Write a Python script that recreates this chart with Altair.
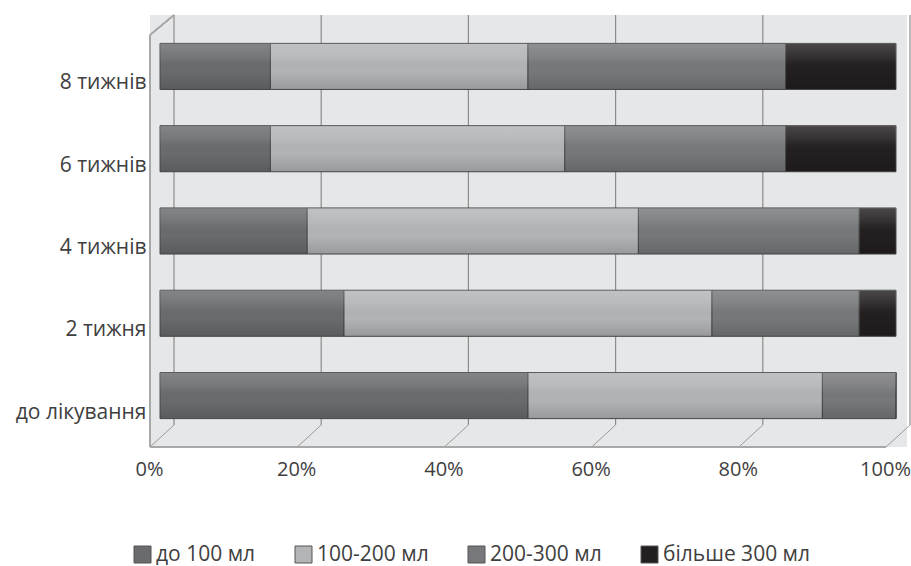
import altair as alt
import pandas as pd

categories = ["8 тижнів", "6 тижнів", "4 тижнів", "2 тижня", "до лікування"]
series = ["до 100 мл", "100-200 мл", "200-300 мл", "більше 300 мл"]
v_lt100 = [15, 15, 20, 25, 50]
v_100_200 = [35, 40, 45, 50, 40]
v_200_300 = [35, 30, 30, 20, 10]
v_gt300 = [15, 15, 5, 5, 0]
colors = ["#6a6b6e", "#b3b4b6", "#77787b", "#231f20"]
tick_values = [0, 20, 40, 60, 80, 100]

rows = []
for ci, c in enumerate(categories):
    for si, (s, vals) in enumerate(zip(series, [v_lt100, v_100_200, v_200_300, v_gt300])):
        rows.append({"cat": c, "series": s, "value": vals[ci], "ord": si})
df = pd.DataFrame(rows)
grid = pd.DataFrame({"v": tick_values})

W, H = 757, 432
K = 7.36
FONT = "Open Sans"
xscale = alt.Scale(domain=[-10 / K, (W - 10) / K], nice=False, zero=False)

x_enc = alt.X("value:Q", stack="zero", scale=xscale,
              axis=alt.Axis(values=tick_values, labelExpr="datum.value + '%'",
                            grid=False, ticks=False, domain=False,
                            labelFont=FONT, labelFontSize=20, labelColor="#404040",
                            labelOffset=-11, labelPadding=12, title=None))
y_enc = alt.Y("cat:N", sort=categories,
              scale=alt.Scale(paddingInner=0.44, paddingOuter=0.345),
              axis=alt.Axis(ticks=False, domain=False, labelFont=FONT, labelFontSize=21,
                            labelColor="#404040", labelPadding=4, labelOffset=17,
                            title=None))

grid_base = alt.Chart(grid)
back_grid = grid_base.mark_rule(color="#8c8c8c", strokeWidth=1.2, xOffset=14).encode(
    x=alt.X("v:Q", scale=xscale), y=alt.value(0), y2=alt.value(H - 22))
floor_diag = grid_base.mark_rule(color="#9a9a9a", strokeWidth=1, xOffset=-10, x2Offset=14).encode(
    x=alt.X("v:Q", scale=xscale), x2="v:Q", y=alt.value(H), y2=alt.value(H - 22))
floor_front = grid_base.mark_rule(color="#a8a8a8", strokeWidth=2, xOffset=-10, x2Offset=-10).encode(
    x=alt.datum(0, scale=xscale), x2=alt.datum(100), y=alt.value(H))
left_front = grid_base.mark_rule(color="#a8a8a8", strokeWidth=1.2, xOffset=-10).encode(
    x=alt.datum(0, scale=xscale), y=alt.value(20), y2=alt.value(H))
left_top = grid_base.mark_rule(color="#a8a8a8", strokeWidth=1.2, xOffset=-10, x2Offset=14).encode(
    x=alt.datum(0, scale=xscale), x2=alt.datum(0), y=alt.value(20), y2=alt.value(0))

bars = alt.Chart(df).mark_bar(stroke="#4a4a4a", strokeWidth=1).encode(
    x=x_enc,
    y=y_enc,
    color=alt.Color("series:N", sort=series,
                    scale=alt.Scale(domain=series, range=colors),
                    legend=alt.Legend(orient="none", legendX=-18, legendY=529,
                                      direction="horizontal", title=None,
                                      symbolType="square", symbolSize=289,
                                      symbolStrokeColor="#555555", symbolStrokeWidth=1,
                                      labelFont=FONT, labelFontSize=21, labelColor="#404040",
                                      labelOffset=3, columnPadding=37)),
    order=alt.Order("ord:Q"),
)

shade = alt.Chart(df).mark_bar(
    color=alt.Gradient(gradient="linear", x1=0, x2=0, y1=0, y2=1,
                       stops=[alt.GradientStop(color="rgba(255,255,255,0.18)", offset=0),
                              alt.GradientStop(color="rgba(255,255,255,0.08)", offset=0.3),
                              alt.GradientStop(color="rgba(0,0,0,0.0)", offset=0.6),
                              alt.GradientStop(color="rgba(0,0,0,0.15)", offset=1)])
).encode(
    x=alt.X("value:Q", stack="zero", scale=xscale),
    y=alt.Y("cat:N", sort=categories),
    order=alt.Order("ord:Q"),
    detail="series:N",
)

chart = alt.layer(back_grid, floor_diag, floor_front, left_front, left_top, bars, shade).properties(
    width=W, height=H,
    autosize=alt.AutoSizeParams(type="none"),
    padding={"left": 150, "top": 15, "right": 4, "bottom": 119},
    background="white",
).configure_view(fill="#e6e7e8", stroke=None)

chart.save("out.html", embed_options={"renderer": "svg", "actions": False})
